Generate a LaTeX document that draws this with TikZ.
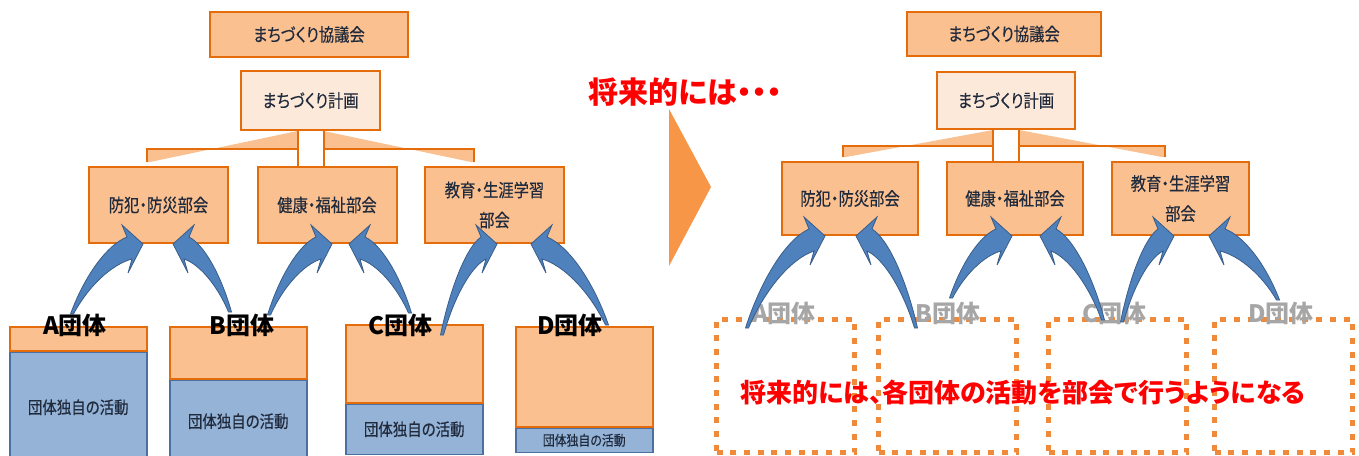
\documentclass[tikz,border=0pt]{standalone}
\usepackage{fontspec}
\newfontfamily\jp[FakeStretch=0.85,FakeBold=0.4,RawFeature=+palt]{Noto Sans CJK JP}
\newfontfamily\jpw[RawFeature=+palt]{Noto Sans CJK JP}
\usetikzlibrary{calc,positioning}
\definecolor{boxfill}{HTML}{FAC090}
\definecolor{boxline}{HTML}{E46C0A}
\definecolor{planfill}{HTML}{FDE9D9}
\definecolor{actfill}{HTML}{95B3D7}
\definecolor{actline}{HTML}{4A6FA0}
\definecolor{arrfill}{HTML}{4F81BD}
\definecolor{arrline}{HTML}{385D8A}
\definecolor{chev}{HTML}{F79646}
\definecolor{dotline}{HTML}{EE8A3A}
\definecolor{labgray}{HTML}{A6A6A6}
\definecolor{ink}{HTML}{1F2A3C}
\definecolor{notered}{HTML}{FF0000}

\newcommand\bluearrow[2]{%
 \filldraw[arr] let \p1=(#1), \p2=(#2), \n1={sign(\x2-\x1)},
  \p3=({\x2-\n1*16pt},{\y2+7pt}), \p4=({\x2-\n1*21pt},{\y2+19pt}),
  \p5=({\x2-\n1*15pt},{\y2-29pt}), \p6=({\x2-\n1*11pt},{\y2-15pt}),
  \p7=({\x1-\n1*1.5pt},{\y1}), \p8=({\x1+\n1*1.5pt},{\y1}) in
  (\p7) .. controls ({\x7+0.25*(\x3-\x7)},{\y7+0.5*(\y3-\y7)}) and ({\x3-0.35*(\x3-\x7)},{\y3-0.1*(\y3-\y7)}) .. (\p3)
  -- (\p4) -- (\p2) -- (\p5) -- (\p6)
  .. controls ({\x6-0.35*(\x6-\x8)},{\y6-0.1*(\y6-\y8)}) and ({\x8+0.25*(\x6-\x8)},{\y8+0.5*(\y6-\y8)}) .. (\p8) -- cycle;
}

\newcommand\planlinks[3]{%
 \coordinate (#1s1) at ($(#1plan.south)+(-13,0)$);
 \coordinate (#1s2) at ($(#1plan.south)+(13,0)$);
 \coordinate (#1bar) at ($(#1plan.south)!0.5!(#1sub2.north)$);
 \coordinate (#1d1) at ($(#1sub1.north)+(#2,-4)$);
 \coordinate (#1d3) at ($(#1sub3.north)+(#3,-4)$);
 \fill[shd] (#1s1) -- (#1s1 |- #1bar) -- (#1d1 |- #1bar) -- (#1d1) -- ++(3,0) -- cycle;
 \fill[shd] (#1s2) -- (#1s2 |- #1bar) -- (#1d3 |- #1bar) -- (#1d3) -- ++(-3,0) -- cycle;
 \draw[link] (#1s1) -- (#1s1 |- #1sub2.north);
 \draw[link] (#1s2) -- (#1s2 |- #1sub2.north);
 \draw[link] (#1s1 |- #1bar) -| (#1d1);
 \draw[link] (#1s2 |- #1bar) -| (#1d3);
}

\begin{document}
\begin{tikzpicture}[x=1pt,y=-1pt,
 every node/.style={inner sep=0pt},
 obox/.style={draw=boxline,fill=boxfill,line width=2pt,text=ink,align=center,
  font=\jp\fontsize{18}{30}\selectfont},
 pbox/.style={obox,fill=planfill},
 link/.style={draw=boxline,line width=2pt},
 shd/.style={fill=boxfill},
 gtop/.style={draw=boxline,fill=boxfill,line width=1.5pt,minimum width=137pt,anchor=north west},
 gact/.style={draw=actline,fill=actfill,line width=1.5pt,minimum width=137pt,text=ink,
  font=\jp\fontsize{17}{20}\selectfont},
 glab/.style={font=\jpw\bfseries\fontsize{24}{24}\selectfont},
 dbox/.style={draw=dotline,line width=5pt,dash pattern=on 6pt off 7.7pt,
  minimum width=138pt,minimum height=133pt,anchor=north west},
 arr/.style={fill=arrfill,draw=arrline,line width=0.8pt},
 note/.style={text=notered,font=\jpw\bfseries\fontsize{30}{30}\selectfont}]
\useasboundingbox (0,0) rectangle (1359,455);

% now
\node[obox,minimum width=198pt,minimum height=45pt] (lkyo) at (309,34.5) {まちづくり協議会};
\node[pbox,minimum width=139pt,minimum height=59pt] (lplan) at (310.5,100.5) {まちづくり計画};
\node[obox,minimum width=139pt,minimum height=76pt] (lsub1) at (158.5,205) {防犯・防災部会};
\node[obox,minimum width=139pt,minimum height=76pt] (lsub2) at (327,205) {健康・福祉部会};
\node[obox,minimum width=139pt,minimum height=76pt] (lsub3) at (494.5,205) {教育・生涯学習\\部会};
\planlinks{l}{-11.5}{-20.5}

\node[gtop,minimum height=24pt] (atop) at (9,326) {};
\node[gact,minimum height=110pt,below=0pt of atop] (aact) {団体独自の活動};
\node[gtop,minimum height=52pt] (btop) at (169,326) {};
\node[gact,minimum height=82pt,below=0pt of btop] (bact) {団体独自の活動};
\node[gtop,minimum height=78pt] (ctop) at (345,324) {};
\node[gact,minimum height=50pt,below=0pt of ctop] (cact) {団体独自の活動};
\node[gtop,minimum height=100pt] (dtop) at (515,326) {};
\node[gact,minimum height=24pt,below=0pt of dtop,font=\jp\fontsize{14}{16}\selectfont] (dact) {団体独自の活動};

\coordinate (ta1) at (72,314);
\coordinate (tb1) at (230,312);
\coordinate (tb2) at (269,315);
\coordinate (tc2) at (410,313);
\coordinate (tc3) at (442,335);
\coordinate (td3) at (607,325);
\bluearrow{ta1}{$(lsub1.south)+(-15.5,0)$}
\bluearrow{tb1}{$(lsub1.south)+(14.5,0)$}
\bluearrow{tb2}{$(lsub2.south)+(5,0)$}
\bluearrow{tc2}{$(lsub2.south)+(22,0)$}
\bluearrow{tc3}{$(lsub3.south)+(2.5,0)$}
\bluearrow{td3}{$(lsub3.south)+(36.5,0)$}

\node[glab] (la) at (75,325) {A団体};
\node[glab] (lb) at (242,325) {B団体};
\node[glab] (lc) at (400,325) {C団体};
\node[glab] (ld) at (570,325) {D団体};

% middle
\node[note] (fut) at (685,92) {将来的には・・・};
\fill[chev] (669,109) -- (711,187) -- (669,266) -- cycle;

% future
\node[obox,minimum width=194pt,minimum height=44pt] (rkyo) at (1004,34) {まちづくり協議会};
\node[pbox,minimum width=138pt,minimum height=57pt] (rplan) at (1006,100.5) {まちづくり計画};
\node[obox,minimum width=136pt,minimum height=73pt] (rsub1) at (850,198.5) {防犯・防災部会};
\node[obox,minimum width=136pt,minimum height=73pt] (rsub2) at (1015,198.5) {健康・福祉部会};
\node[obox,minimum width=137pt,minimum height=73pt] (rsub3) at (1180.5,198.5) {教育・生涯学習\\部会};
\planlinks{r}{-7}{-15.5}

\node[dbox] (ra) at (714,317) {};
\node[dbox] (rb) at (876,317) {};
\node[dbox] (rc) at (1046,317) {};
\node[dbox] (rd) at (1212,317) {};

\node[glab,text=labgray] (ga) at (784,313) {A団体};
\node[glab,text=labgray] (gb) at (948,313) {B団体};
\node[glab,text=labgray] (gc) at (1114,313) {C団体};
\node[glab,text=labgray] (gd) at (1281,313) {D団体};

\coordinate (rta1) at (747,328);
\coordinate (rtb1) at (916,328);
\coordinate (rtb2) at (951,298);
\coordinate (rtc2) at (1103,320);
\coordinate (rtc3) at (1122,322);
\coordinate (rtd3) at (1278,300);
\bluearrow{rta1}{$(rsub1.south)+(-25,0)$}
\bluearrow{rtb1}{$(rsub1.south)+(6,0)$}
\bluearrow{rtb2}{$(rsub2.south)+(-3,0)$}
\bluearrow{rtc2}{$(rsub2.south)+(25,0)$}
\bluearrow{rtc3}{$(rsub3.south)+(-6.5,0)$}
\bluearrow{rtd3}{$(rsub3.south)+(28.5,0)$}

\node[note,font=\jpw\bfseries\fontsize{26}{26}\selectfont] (futall) at (1023,393) {将来的には、各団体の活動を部会で行うようになる};
\end{tikzpicture}
\end{document}
